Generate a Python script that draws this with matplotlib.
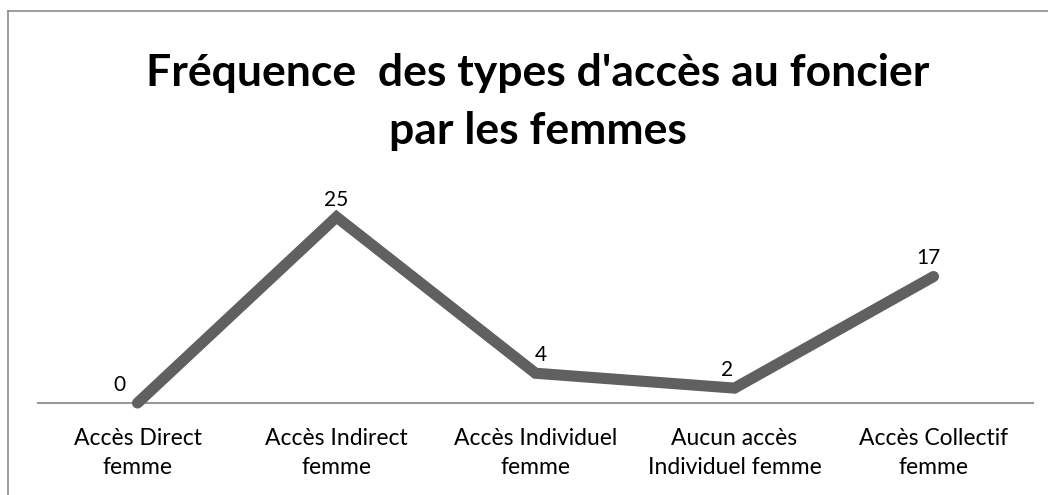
import matplotlib
matplotlib.use("Agg")
import matplotlib.pyplot as plt
from matplotlib.lines import Line2D

categories = ["Accès Direct\nfemme", "Accès Indirect\nfemme", "Accès Individuel\nfemme",
              "Aucun accès\nIndividuel femme", "Accès Collectif\nfemme"]
values = [0, 25, 4, 2, 17]
title = "Fréquence  des types d'accès au foncier\npar les femmes"

W, H = 1048, 495
fig = plt.figure(figsize=(W / 100, H / 100), dpi=100)
plt.rcParams['font.family'] = ['Lato', 'DejaVu Sans']

# chart border (top and left visible)
fig.add_artist(Line2D([8 / W, 8 / W], [0, 1 - 11 / H], transform=fig.transFigure, color="#8c8c8c", lw=1.2))
fig.add_artist(Line2D([8 / W, 1], [1 - 11 / H, 1 - 11 / H], transform=fig.transFigure, color="#8c8c8c", lw=1.2))

ax_left, ax_right = 38 / W, 1033 / W
ax_bottom = (H - 403) / H
ymax = 30
ax_top = (H - (403 - 7.44 * ymax)) / H
ax = fig.add_axes([ax_left, ax_bottom, ax_right - ax_left, ax_top - ax_bottom])

x = list(range(len(categories)))
ax.plot(x, values, color="#606060", lw=8, solid_capstyle="round", solid_joinstyle="miter", clip_on=False, zorder=3)
ax.set_xlim(-0.5, len(categories) - 0.5)
ax.set_ylim(0, ymax)

offsets = [(-13, 6), (0, 5), (4, 6), (-5, 6), (-4, 6)]
for xi, v, off in zip(x, values, offsets):
    ax.annotate(str(v), (xi, v), xytext=off, textcoords="offset points",
                ha="center", va="bottom", fontsize=15, color="#000000")

for s in ["top", "right", "left"]:
    ax.spines[s].set_visible(False)
ax.spines["bottom"].set_color("#9a9a9a")
ax.spines["bottom"].set_linewidth(1.5)
ax.set_yticks([])
ax.set_xticks(x)
ax.set_xticklabels(categories, fontsize=16.5, linespacing=1.45)
ax.tick_params(axis="x", length=0, pad=18)

fig.text(538 / W, 1 - 53 / H, title, ha="center", va="top", fontsize=32, fontweight="bold",
         linespacing=1.55)

fig.savefig("out.png", dpi=100)
